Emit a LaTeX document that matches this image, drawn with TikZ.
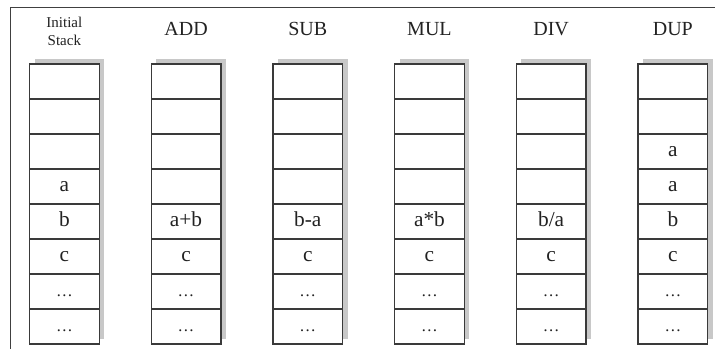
\documentclass[tikz,border=0pt]{standalone}
\usepackage{fontspec}
\setmainfont{Liberation Serif}
\definecolor{boxline}{HTML}{3A3A3A}
\definecolor{boxshadow}{HTML}{C8C8C8}
\definecolor{ink}{HTML}{222222}
\tikzset{
  cell/.style={draw=boxline, fill=white, line width=1pt, minimum width=52.3pt,
    minimum height=26.25pt, inner sep=0pt, outer sep=0pt},
  entry/.style={font=\fontsize{16pt}{18pt}\selectfont, text=ink,
    text height=11pt, text depth=4pt, inner sep=0pt},
  optitle/.style={font=\fontsize{15pt}{17pt}\selectfont, text=ink,
    anchor=base, inner sep=0pt},
  colshadow/.style={fill=boxshadow},
  frame/.style={draw=black!75, line width=0.8pt}
}
\newcommand{\celldots}{{\fontsize{12.5pt}{14pt}\selectfont\dots}}

\begin{document}
\begin{tikzpicture}[x=0.75pt,y=-0.75pt]
\useasboundingbox (0,0) rectangle (715,349);
\draw[frame] (715,7.5) -- (10.5,7.5) -- (10.5,349);

\foreach \c/\op in {0/init,1/add,2/sub,3/mul,4/div,5/dup} {
  \fill[colshadow] ({34.5+121.7*\c},59) rectangle ({104.2+121.7*\c},339);
  \foreach \r in {1,...,8}
    \node[cell] (\op-\r) at ({64.35+121.7*\c},{46.5+35*\r}) {};
}

\coordinate (titleline) at (0,36);
\coordinate (initline) at (0,31.5);
\node[font=\fontsize{11.25pt}{13.5pt}\selectfont, text=ink, align=center, inner sep=0pt]
  (init-title) at (init-1 |- initline) {Initial\\Stack};
\node[optitle] (add-title) at (add-1 |- titleline) {ADD};
\node[optitle] (sub-title) at (sub-1 |- titleline) {SUB};
\node[optitle] (mul-title) at (mul-1 |- titleline) {MUL};
\node[optitle] (div-title) at (div-1 |- titleline) {DIV};
\node[optitle] (dup-title) at (dup-1 |- titleline) {DUP};

\foreach \op in {init,add,sub,mul,div,dup} {
  \node[entry] at (\op-6) {c};
  \node[entry] at (\op-7) {\celldots};
  \node[entry] at (\op-8) {\celldots};
}
\node[entry] at (init-4) {a};
\node[entry] at (init-5) {b};
\node[entry] at (add-5) {a+b};
\node[entry] at (sub-5) {b-a};
\node[entry] at (mul-5) {a*b};
\node[entry] at (div-5) {b/a};
\node[entry] at (dup-3) {a};
\node[entry] at (dup-4) {a};
\node[entry] at (dup-5) {b};
\end{tikzpicture}
\end{document}
